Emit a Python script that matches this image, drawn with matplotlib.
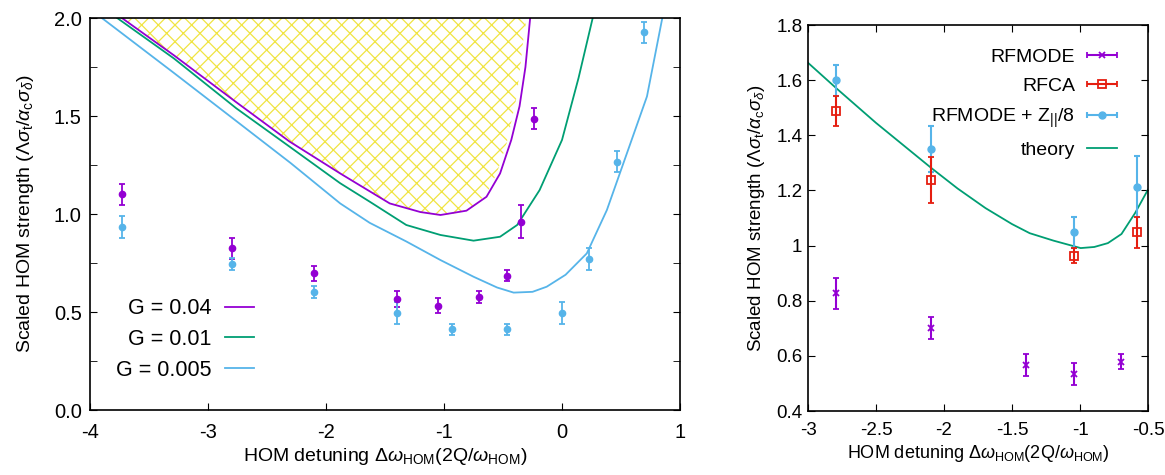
import numpy as np
import matplotlib
matplotlib.use('Agg')
import matplotlib.pyplot as plt
from matplotlib.lines import Line2D
from matplotlib.legend_handler import HandlerErrorbar
from matplotlib.ticker import MultipleLocator, FormatStrFormatter, FuncFormatter

plt.rcParams['font.family'] = ['Liberation Sans', 'DejaVu Sans']
plt.rcParams['mathtext.fontset'] = 'custom'
plt.rcParams['mathtext.rm'] = 'Liberation Sans'
plt.rcParams['mathtext.it'] = 'Liberation Sans:italic'
plt.rcParams['axes.unicode_minus'] = False
plt.rcParams['hatch.linewidth'] = 0.9

PURPLE = '#9400d3'
GREEN = '#009e73'
BLUE = '#56b4e9'
RED = '#e51e10'
YELLOW = '#f0e442'

# ---- left panel: theory curves for three G values
g04_x = [-3.73, -3.29, -2.76, -2.31, -1.88, -1.46, -1.2, -1.03, -0.81, -0.64, -0.525, -0.43, -0.36, -0.31, -0.27]
g04_y = [2.0, 1.81, 1.57, 1.37, 1.207, 1.054, 1.01, 0.995, 1.017, 1.088, 1.207, 1.378, 1.55, 1.75, 2.0]
g01_x = [-3.77, -3.29, -2.76, -2.31, -1.88, -1.63, -1.32, -1.03, -0.75, -0.525, -0.38, -0.19, 0.0, 0.14, 0.26]
g01_y = [2.0, 1.794, 1.539, 1.344, 1.157, 1.063, 0.944, 0.893, 0.864, 0.884, 0.944, 1.122, 1.378, 1.694, 2.0]
g005_x = [-3.90, -3.29, -2.76, -2.30, -1.88, -1.63, -1.32, -1.03, -0.75, -0.55, -0.41, -0.25, -0.13,
          0.03, 0.21, 0.38, 0.59, 0.72, 0.85]
g005_y = [2.0, 1.72, 1.474, 1.26, 1.054, 0.955, 0.86, 0.765, 0.68, 0.625, 0.599, 0.603, 0.629,
          0.69, 0.799, 1.02, 1.378, 1.6, 2.0]

# right edge of the hatched (unstable) region
hatch_x = [-0.893, -0.751, -0.638, -0.553, -0.469, -0.384, -0.328, -0.30]
hatch_y = [1.003, 1.037, 1.105, 1.207, 1.361, 1.598, 1.888, 2.0]

# ---- left panel: simulation points
sim04_x = [-3.73, -2.80, -2.10, -1.40, -1.05, -0.70, -0.47, -0.35, -0.24]
sim04_y = [1.10, 0.825, 0.698, 0.565, 0.533, 0.577, 0.686, 0.961, 1.487]
sim04_e = [0.054, 0.054, 0.038, 0.04, 0.04, 0.03, 0.03, 0.083, 0.055]
sim005_x = [-3.73, -2.80, -2.10, -1.40, -0.935, -0.47, 0.0, 0.232, 0.464, 0.696]
sim005_y = [0.934, 0.744, 0.604, 0.494, 0.411, 0.411, 0.494, 0.769, 1.267, 1.927]
sim005_e = [0.055, 0.03, 0.03, 0.055, 0.027, 0.027, 0.055, 0.056, 0.055, 0.055]

# ---- right panel
rfmode_x = [-2.795, -2.095, -1.395, -1.045, -0.695]
rfmode_y = [0.827, 0.70, 0.567, 0.534, 0.579]
rfmode_e = [0.056, 0.04, 0.039, 0.039, 0.027]
rfca_x = [-2.795, -2.095, -1.045, -0.583]
rfca_y = [1.488, 1.239, 0.963, 1.048]
rfca_e = [0.055, 0.083, 0.027, 0.056]
rfz_x = [-2.795, -2.095, -1.045, -0.583]
rfz_y = [1.599, 1.351, 1.048, 1.213]
rfz_e = [0.055, 0.083, 0.056, 0.111]
theory_x = [-3.0, -2.795, -2.5, -2.095, -1.9, -1.695, -1.5, -1.37, -1.195, -0.995, -0.895, -0.795,
            -0.695, -0.595, -0.5]
theory_y = [1.663, 1.572, 1.445, 1.282, 1.207, 1.136, 1.078, 1.045, 1.018, 0.991, 0.995, 1.009,
            1.042, 1.118, 1.203]

ylab = r'Scaled HOM strength ($\Lambda\sigma_{\mathrm{t}}/\alpha_{\mathrm{c}}\sigma_{\delta}$)'
xlab = r'HOM detuning $\Delta\omega_{\mathrm{HOM}}\mathrm{(2Q/}\omega_{\mathrm{HOM}}\mathrm{)}$'

fig = plt.figure(figsize=(11.65, 4.75), dpi=100)
ax1 = fig.add_axes([0.0773, 0.1368, 0.5064, 0.8253])
ax2 = fig.add_axes([0.6936, 0.1347, 0.2918, 0.8126])

# hatched region above the G=0.04 curve
imin = int(np.argmin(g04_y))
fx = np.r_[g04_x[:imin + 1], hatch_x]
fy = np.r_[g04_y[:imin + 1], hatch_y]
ax1.fill(fx, fy, facecolor='none', edgecolor=YELLOW, hatch='xx', linewidth=0)

ax1.plot(g04_x, g04_y, color=PURPLE, lw=1.3, label='G = 0.04')
ax1.plot(g01_x, g01_y, color=GREEN, lw=1.3, label='G = 0.01')
ax1.plot(g005_x, g005_y, color=BLUE, lw=1.3, label='G = 0.005')

ax1.errorbar(sim04_x, sim04_y, yerr=sim04_e, fmt='o', color=PURPLE, ms=4.5,
             capsize=2.5, elinewidth=1.3, capthick=1.3)
ax1.errorbar(sim005_x, sim005_y, yerr=sim005_e, fmt='o', color=BLUE, ms=4.5,
             capsize=2.5, elinewidth=1.3, capthick=1.3)

ax1.set_xlim(-4, 1)
ax1.set_ylim(0, 2)
ax1.xaxis.set_major_locator(MultipleLocator(1))
ax1.yaxis.set_major_locator(MultipleLocator(0.5))
ax1.yaxis.set_minor_locator(MultipleLocator(0.25))
ax1.yaxis.set_major_formatter(FormatStrFormatter('%.1f'))
ax1.tick_params(axis='both', which='both', direction='in', length=5, labelsize=14.5)
ax1.tick_params(axis='y', which='both', right=True, pad=6)
ax1.tick_params(axis='x', pad=9)
ax1.set_xlabel(xlab, fontsize=14, labelpad=3)
ax1.set_ylabel(ylab, fontsize=14, labelpad=13)
ax1.legend(loc='upper right', bbox_to_anchor=(0.278, 0.285), frameon=False, markerfirst=False,
           fontsize=15.5, handlelength=1.35, handletextpad=0.63, labelspacing=0.45,
           borderpad=0, borderaxespad=0)

# right panel
ax2.plot(theory_x, theory_y, color=GREEN, lw=1.3)
ax2.errorbar(rfz_x, rfz_y, yerr=rfz_e, fmt='o', color=BLUE, ms=5,
             capsize=2.5, elinewidth=1.5, capthick=1.5)
ax2.errorbar(rfca_x, rfca_y, yerr=rfca_e, fmt='s', color=RED, mfc='none', ms=5.5,
             mew=1.3, capsize=2.5, elinewidth=1.5, capthick=1.5)
ax2.errorbar(rfmode_x, rfmode_y, yerr=rfmode_e, fmt='x', color=PURPLE, ms=5,
             mew=1.3, capsize=2.5, elinewidth=1.5, capthick=1.5)

# legend entries drawn as horizontal error bars (gnuplot style)
h1 = ax2.errorbar([np.nan], [np.nan], xerr=[1], fmt='x', color=PURPLE, ms=5, mew=1.3,
                  capsize=2.5, elinewidth=1.5, capthick=1.5)
h2 = ax2.errorbar([np.nan], [np.nan], xerr=[1], fmt='s', color=RED, mfc='none', ms=5.5,
                  mew=1.3, capsize=2.5, elinewidth=1.5, capthick=1.5)
h3 = ax2.errorbar([np.nan], [np.nan], xerr=[1], fmt='o', color=BLUE, ms=5,
                  capsize=2.5, elinewidth=1.5, capthick=1.5)
h4 = Line2D([], [], color=GREEN, lw=1.3)
ax2.legend([h1, h2, h3, h4], ['RFMODE', 'RFCA', r'RFMODE + Z$_{||}$/8', 'theory'],
           handler_map={type(h1): HandlerErrorbar(xerr_size=0.75)},
           loc='upper right', bbox_to_anchor=(0.909, 0.94), frameon=False, markerfirst=False,
           fontsize=14, handlelength=1.55, handletextpad=0.6, labelspacing=0.6,
           borderpad=0, borderaxespad=0)

ax2.set_xlim(-3, -0.5)
ax2.set_ylim(0.4, 1.8)
ax2.xaxis.set_major_locator(MultipleLocator(0.5))
ax2.yaxis.set_major_locator(MultipleLocator(0.2))
fmt = FuncFormatter(lambda v, p: '%g' % round(v, 2))
ax2.xaxis.set_major_formatter(fmt)
ax2.yaxis.set_major_formatter(fmt)
ax2.tick_params(axis='both', which='both', direction='in', length=5, labelsize=13.5,
                top=True, right=True)
ax2.tick_params(axis='x', pad=8)
ax2.tick_params(axis='y', pad=4)
ax2.set_xlabel(xlab, fontsize=13, labelpad=3)
ax2.set_ylabel(ylab, fontsize=13.5, labelpad=7)

for ax in (ax1, ax2):
    for s in ax.spines.values():
        s.set_linewidth(1.2)

fig.savefig('out.png', dpi=100)
